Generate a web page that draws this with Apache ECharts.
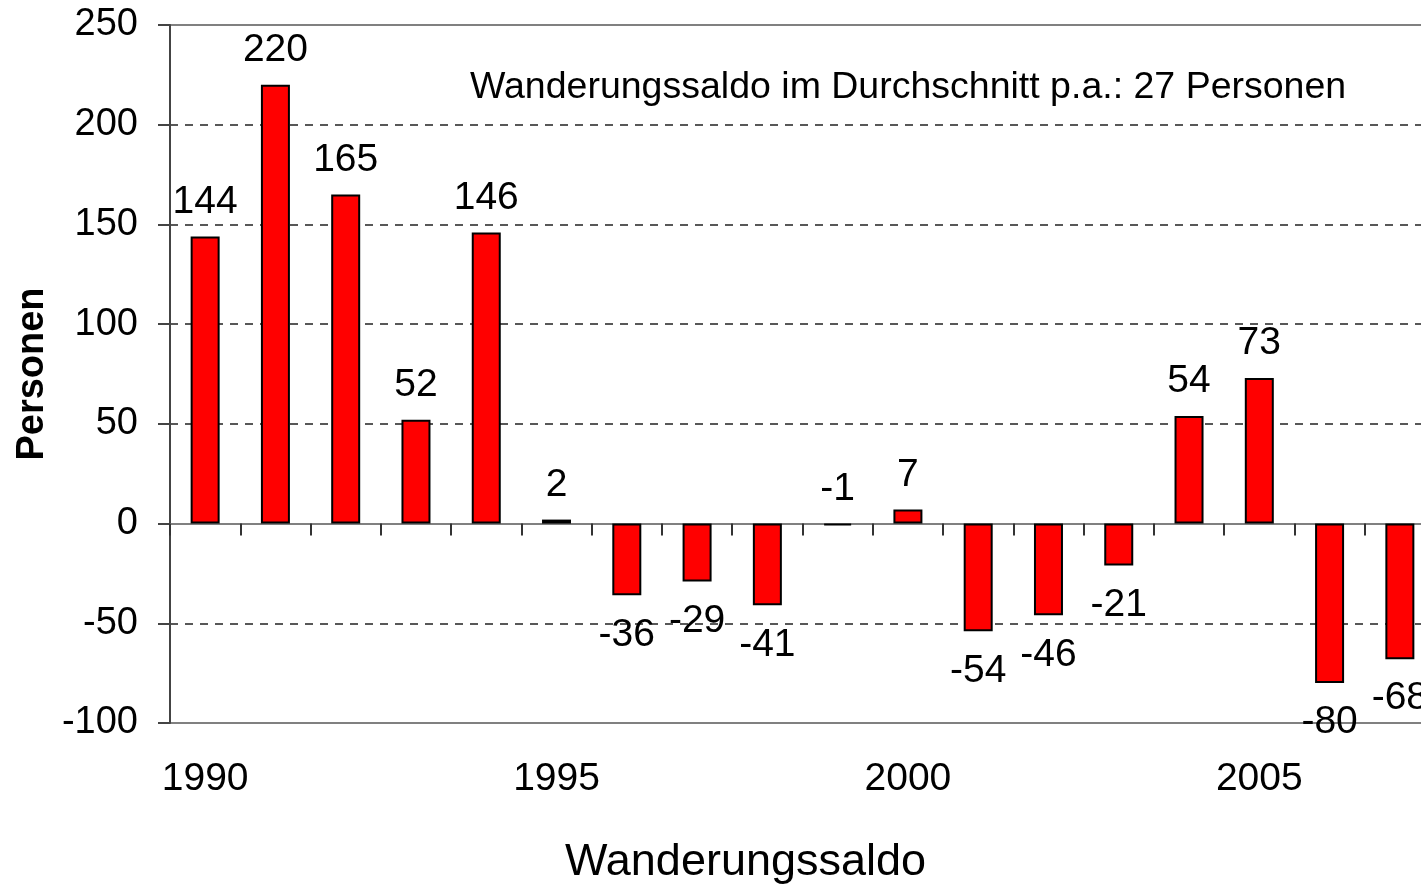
<!DOCTYPE html>
<html>
<head>
<meta charset="utf-8">
<script src="https://cdn.jsdelivr.net/npm/echarts@6.0.0/dist/echarts.min.js"></script>
<style>
  html, body { margin: 0; padding: 0; background: #fff; }
  #chart { width: 1421px; height: 887px; }
</style>
</head>
<body>
<div id="chart"></div>
<script>
var years = ['1990','1991','1992','1993','1994','1995','1996','1997','1998','1999',
             '2000','2001','2002','2003','2004','2005','2006','2007'];
var saldo = [144, 220, 165, 52, 146, 2, -36, -29, -41, -1, 7, -54, -46, -21, 54, 73, -80, -68];
var yMin = -100, yMax = 250, yStep = 50;
var avgText = 'Wanderungssaldo im Durchschnitt p.a.: 27 Personen';
var xTitle = 'Wanderungssaldo';
var yTitle = 'Personen';

var font = "'Liberation Sans', Arial, sans-serif";

var chart = echarts.init(document.getElementById('chart'));

var barData = saldo.map(function (v) {
    // kleine negative Werte stehen oberhalb wie im Original
    var oben = v > -5;
    return { value: v, label: { position: oben ? 'top' : 'bottom', distance: oben ? 15 : 20 } };
});

var option = {
    animation: false,
    backgroundColor: '#fff',
    textStyle: { fontFamily: font },
    title: [{
        text: xTitle,
        left: 560,
        top: 835,
        textStyle: { fontSize: 45, fontWeight: 'normal', color: '#000', fontFamily: font }
    }, {
        text: avgText,
        left: 465,
        top: 64,
        textStyle: { fontSize: 37.5, fontWeight: 'normal', color: '#000', fontFamily: font }
    }],
    grid: {
        left: 170,
        top: 25,
        right: -14,
        bottom: 164,
        outerBoundsMode: 'none',
        containLabel: false,
        show: true,
        borderColor: '#808080',
        borderWidth: 2
    },
    xAxis: [{
        type: 'category',
        data: years,
        position: 'top',
        axisLine: { onZero: true, lineStyle: { color: '#808080', width: 2 } },
        axisTick: { show: true, inside: true, interval: 0, length: 12, lineStyle: { color: '#333', width: 2 } },
        axisLabel: { show: false },
        splitLine: { show: false }
    }, {
        type: 'category',
        data: years,
        position: 'bottom',
        axisLine: { show: false, onZero: false },
        axisTick: { show: false },
        axisLabel: { interval: 4, fontSize: 39, color: '#000', margin: 37, fontFamily: font },
        splitLine: { show: false }
    }],
    yAxis: {
        type: 'value',
        min: yMin,
        max: yMax,
        interval: yStep,
        name: yTitle,
        nameLocation: 'middle',
        nameGap: 118,
        nameTextStyle: { fontSize: 38, fontWeight: 'bold', color: '#000', fontFamily: font },
        axisLine: { show: true, lineStyle: { color: '#444', width: 2 } },
        axisTick: { show: true, length: 12, lineStyle: { color: '#444', width: 2 } },
        axisLabel: { fontSize: 38, color: '#000', margin: 32, fontFamily: font },
        splitLine: {
            show: true,
            showMinLine: false,
            showMaxLine: false,
            lineStyle: { color: '#222', type: [8, 7], width: 1.5 }
        }
    },
    series: [{
        type: 'bar',
        xAxisIndex: 0,
        data: barData,
        barWidth: 29,
        itemStyle: { color: '#ff0000', borderColor: '#000', borderWidth: 2 },
        label: {
            show: true,
            fontSize: 39,
            color: '#000',
            fontFamily: font,
            formatter: '{c}'
        }
    }]
};

chart.setOption(option);
</script>
</body>
</html>
